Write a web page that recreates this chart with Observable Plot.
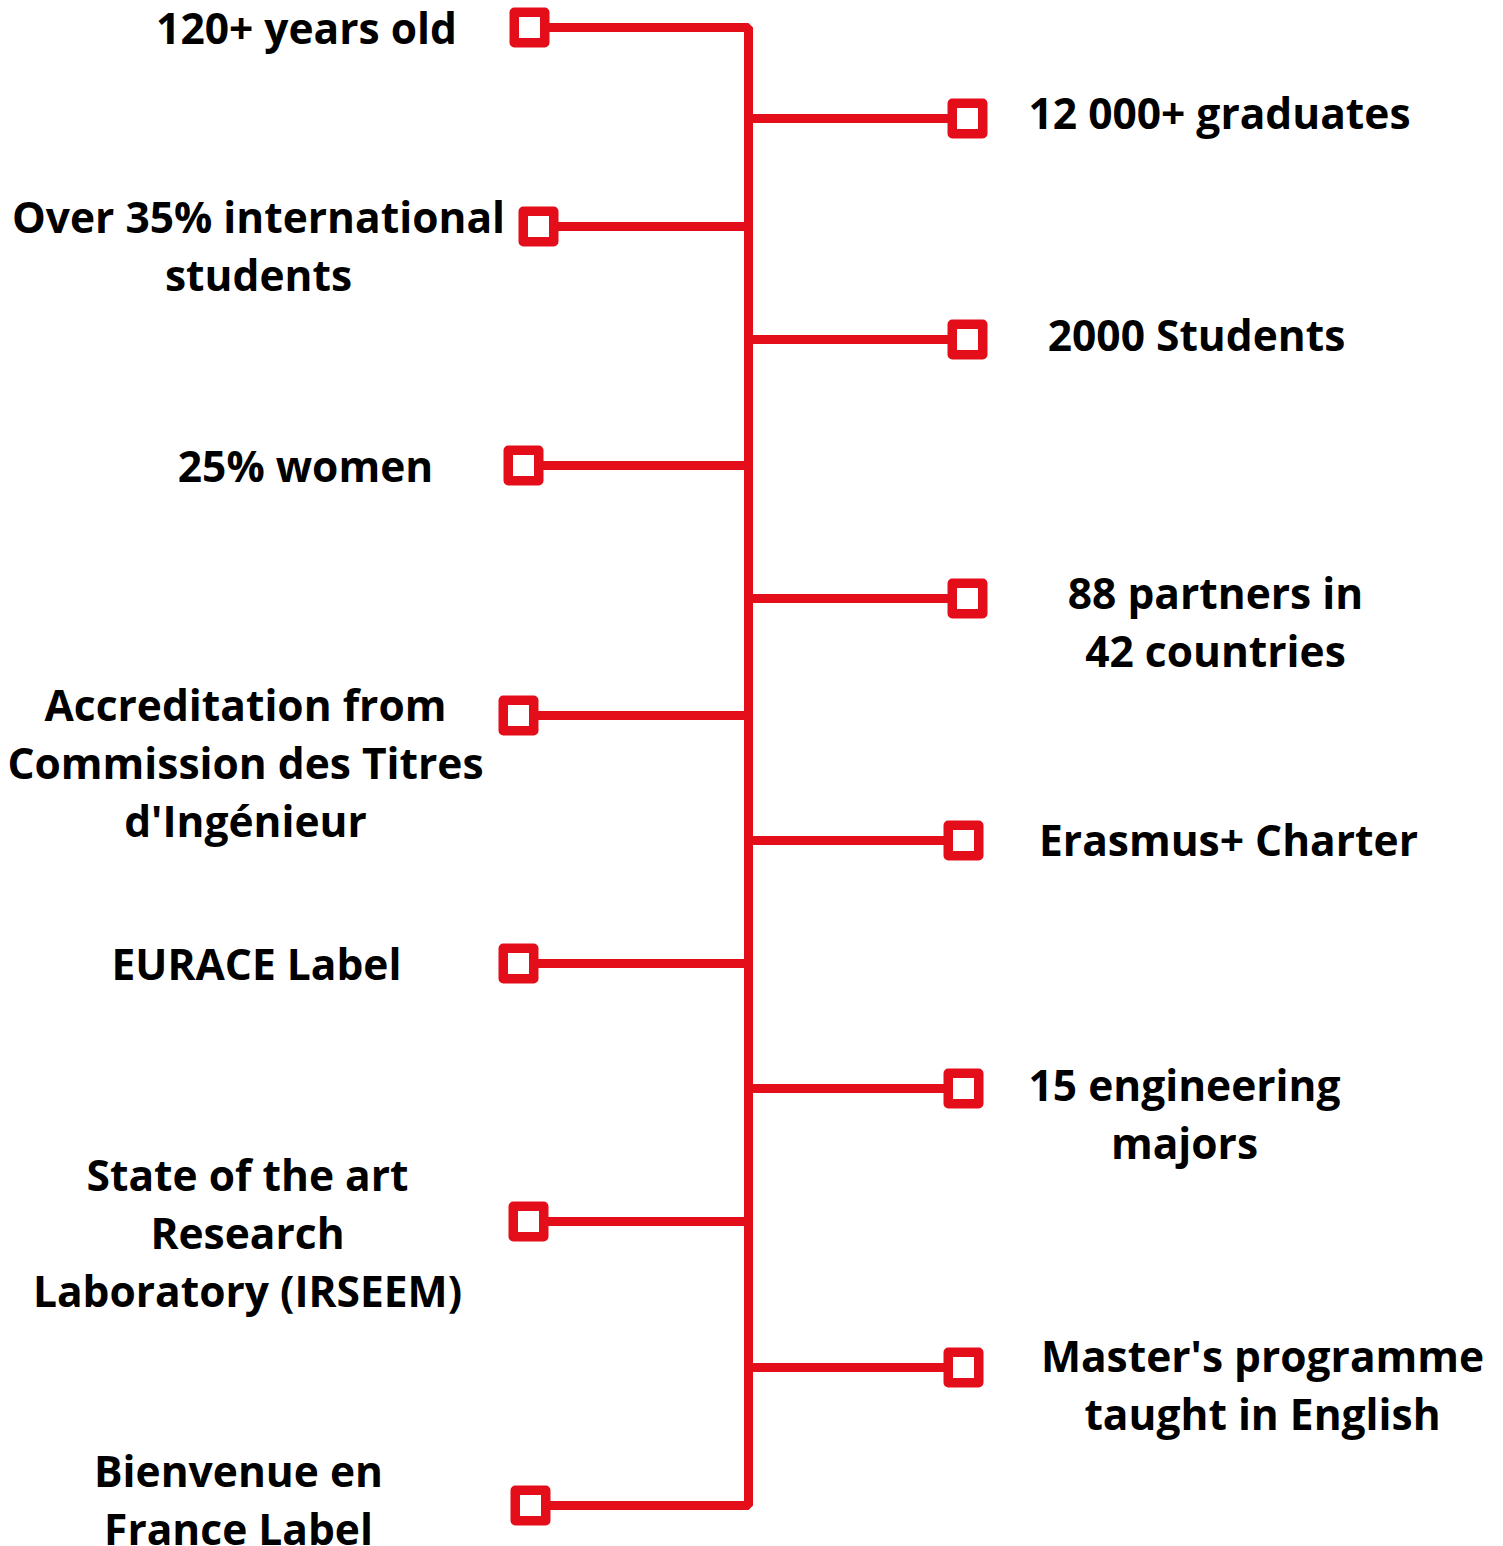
<!DOCTYPE html>
<html>
<head>
<meta charset="utf-8">
<script src="https://cdn.jsdelivr.net/npm/d3@7"></script>
<script src="https://cdn.jsdelivr.net/npm/@observablehq/plot@0.6"></script>
<style>
  html, body { margin: 0; padding: 0; background: #fff; overflow: hidden; }
  #chart svg { display: block; }
</style>
</head>
<body>
<div id="chart"></div>
<script>
// ---- data ----
const leftLabels = [
  "120+ years old",
  "Over 35% international\nstudents",
  "25% women",
  "Accreditation from\nCommission des Titres\nd'Ingénieur",
  "EURACE Label",
  "State of the art\nResearch\nLaboratory (IRSEEM)",
  "Bienvenue en\nFrance Label"
];
const leftLevels = [27, 226, 465, 715, 963, 1221, 1505];

const rightLabels = [
  "12 000+ graduates",
  "2000 Students",
  "88 partners in\n42 countries",
  "Erasmus+ Charter",
  "15 engineering\nmajors",
  "Master's programme\ntaught in English"
];
const rightLevels = [118, 339, 598, 840, 1088, 1367];

// ---- layout (positions of markers / label blocks) ----
const W = 1503, H = 1546;
const trunkX = 748;
const leftMarkerX = [529, 538, 523, 518, 518, 528, 530];
const leftTextX = [306, 258, 305, 245, 256, 247, 238];
const leftTextTop = [2, 191, 440, 679, 938, 1149, 1445];
const rightMarkerX = [967, 967, 967, 963, 963, 963];
const rightTextX = [1219, 1196, 1215, 1228, 1184, 1262];
const rightTextTop = [87, 309, 567, 814, 1059, 1330];

const red = "#e30e1a";
const fontSize = 42.5;
const lineGap = 58;

const nL = leftLevels.length;
const left = leftLabels.map((t, i) => ({text: t, level: leftLevels[i], mx: leftMarkerX[i], tx: leftTextX[i], ty: leftTextTop[i]}));
const right = rightLabels.map((t, i) => ({text: t, level: rightLevels[i], mx: rightMarkerX[i], tx: rightTextX[i], ty: rightTextTop[i]}));

// frame polyline: first branch -> trunk -> last branch
const frame = [
  {x: left[0].mx, y: left[0].level},
  {x: trunkX, y: left[0].level},
  {x: trunkX, y: left[nL - 1].level},
  {x: left[nL - 1].mx, y: left[nL - 1].level}
];
const innerLeft = left.slice(1, nL - 1);

const textOpts = {
  textAnchor: "middle",
  lineAnchor: "top",
  lineHeight: lineGap / fontSize,
  fontSize,
  fontWeight: 700,
  fontFamily: "'Open Sans', 'Noto Sans', sans-serif",
  fill: "#000"
};

const chart = Plot.plot({
  width: W,
  height: H,
  margin: 0,
  x: {domain: [0, W], range: [0, W], axis: null},
  y: {domain: [0, H], range: [0, H], axis: null},
  style: {background: "#fff"},
  marks: [
    Plot.line(frame, {x: "x", y: "y", stroke: red, strokeWidth: 9, strokeLinejoin: "miter", strokeLinecap: "butt", curve: "linear"}),
    Plot.link(innerLeft, {x1: "mx", x2: trunkX, y1: "level", y2: "level", stroke: red, strokeWidth: 9}),
    Plot.link(right, {x1: trunkX, x2: "mx", y1: "level", y2: "level", stroke: red, strokeWidth: 9}),
    Plot.dot(left, {x: "mx", y: "level", symbol: "square", r: 17.2, fill: "#fff", stroke: red, strokeWidth: 9.5, strokeLinejoin: "round"}),
    Plot.dot(right, {x: "mx", y: "level", symbol: "square", r: 17.2, fill: "#fff", stroke: red, strokeWidth: 9.5, strokeLinejoin: "round"}),
    Plot.text(left, {x: "tx", y: "ty", text: "text", ...textOpts}),
    Plot.text(right, {x: "tx", y: "ty", text: "text", ...textOpts})
  ]
});
document.getElementById("chart").appendChild(chart);
</script>
</body>
</html>
